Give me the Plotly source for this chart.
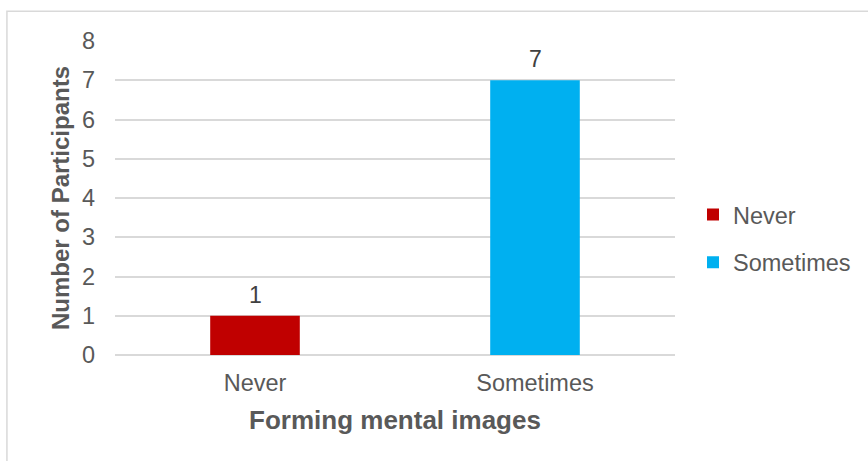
import plotly.graph_objects as go

categories = ["Never", "Sometimes"]
participants = [1, 7]
colors = ["#C00000", "#00B0F0"]
y_ticks = [0, 1, 2, 3, 4, 5, 6, 7, 8]

W, H = 868, 461
grey = "#595959"
font_family = "Liberation Sans, Arial, sans-serif"

fig = go.Figure()
for cat, val, col in zip(categories, participants, colors):
    fig.add_trace(go.Bar(
        x=[cat], y=[val], name=cat, legendgroup=cat,
        marker=dict(color=col, line=dict(width=0)),
        width=0.32,
    ))
    # value label above each bar
    fig.add_annotation(x=cat, y=val, text=str(val), showarrow=False,
                       yanchor="bottom", yshift=6,
                       font=dict(size=23, color="#404040"))

# chart frame
fig.add_shape(type="rect", xref="paper", yref="paper",
              x0=-0.193, x1=1.4, y0=-0.5, y1=1.095,
              line=dict(color="#d9d9d9", width=1.5), fillcolor="rgba(0,0,0,0)",
              layer="below")

fig.update_layout(
    width=W, height=H,
    margin=dict(l=115, r=W - 675, t=41, b=H - 355, autoexpand=False),
    plot_bgcolor="white", paper_bgcolor="white",
    barmode="relative",
    font=dict(family=font_family, color=grey, size=18),
    showlegend=True,
    legend=dict(x=1 + (733 - 40 - 675) / 560, y=0.37, xanchor="left", yanchor="middle",
                font=dict(size=23.5, color=grey), tracegroupgap=14,
                itemwidth=30, bgcolor="rgba(0,0,0,0)"),
    xaxis=dict(
        categoryorder="array", categoryarray=categories,
        showgrid=False, showline=False, ticks="",
        tickfont=dict(size=23.5, color=grey), ticklabelstandoff=11,
        title=dict(text="<b>Forming mental images</b>", font=dict(size=26, color=grey), standoff=16),
    ),
    yaxis=dict(
        range=[0, 8], tickvals=y_ticks,
        showgrid=True, gridcolor="#d9d9d9", gridwidth=1.5,
        zeroline=True, zerolinecolor="#d9d9d9", zerolinewidth=1.5,
        showline=False, ticks="",
        tickfont=dict(size=23.5, color=grey), ticklabelstandoff=19,
        title=dict(text="<b>Number of Participants</b>", font=dict(size=24, color=grey), standoff=5),
    ),
)

fig.write_html("out.html")
